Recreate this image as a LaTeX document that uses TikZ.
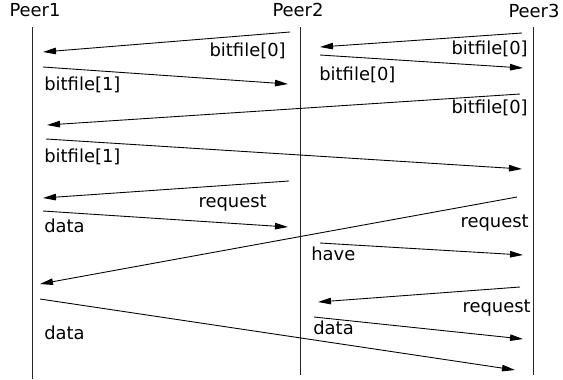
\documentclass[tikz,border=0pt]{standalone}
\usepackage{fontspec}
\setmainfont{DejaVu Sans}
\usetikzlibrary{arrows.meta}

\begin{document}
\begin{tikzpicture}[x=0.02cm, y=-0.02cm,
    every node/.style={font=\fontsize{10.2}{12}\selectfont, inner sep=0pt},
    lifeline/.style={line width=0.5pt, black!85},
    msg/.style={line width=0.5pt, -{Triangle[length=2.6mm, width=1.3mm]}}]
        \useasboundingbox (0,0) rectangle (563,379);
        % Peers
        \node[anchor=base] (peer1) at (35,16) {Peer1};
        \node[anchor=base] (peer2) at (298,16) {Peer2};
        \node[anchor=base] (peer3) at (534,17) {Peer3};
        % Lifelines
        \draw[lifeline] (32,27) -- (32,379);
        \draw[lifeline] (300,27) -- (300,375);
        \draw[lifeline] (533,27) -- (533,375);
        % Message end points
        \coordinate (a1) at (290,32);  \coordinate (b1) at (43,52);
        \coordinate (a2) at (43,67);   \coordinate (b2) at (288,84);
        \coordinate (a3) at (522,33);  \coordinate (b3) at (320,47);
        \coordinate (a4) at (320,55);  \coordinate (b4) at (523,68);
        \coordinate (a5) at (520,94);  \coordinate (b5) at (47,125);
        \coordinate (a6) at (46,139);  \coordinate (b6) at (522,169);
        \coordinate (a7) at (289,181); \coordinate (b7) at (43,198);
        \coordinate (a8) at (43,211);  \coordinate (b8) at (288,227);
        \coordinate (a9) at (517,197); \coordinate (b9) at (40,284);
        \coordinate (a10) at (320,243); \coordinate (b10) at (523,255);
        \coordinate (a11) at (520,287); \coordinate (b11) at (318,302);
        \coordinate (a12) at (314,317); \coordinate (b12) at (523,339);
        \coordinate (a13) at (40,299);  \coordinate (b13) at (515,370);
        % Messages
        \draw[msg] (a1) -- (b1);
        \draw[msg] (a2) -- (b2);
        \draw[msg] (a3) -- (b3);
        \draw[msg] (a4) -- (b4);
        \draw[msg] (a5) -- (b5);
        \draw[msg] (a6) -- (b6);
        \draw[msg] (a7) -- (b7);
        \draw[msg] (a8) -- (b8);
        \draw[msg] (a9) -- (b9);
        \draw[msg] (a10) -- (b10);
        \draw[msg] (a11) -- (b11);
        \draw[msg] (a12) -- (b12);
        \draw[msg] (a13) -- (b13);
        % Labels
        \node[anchor=base east] (t1) at (286,56) {bitfile[0]};
        \node[anchor=base west] (t2) at (44,90) {bitfile[1]};
        \node[anchor=base east] (t3) at (528,54) {bitfile[0]};
        \node[anchor=base west] (t4) at (319,80) {bitfile[0]};
        \node[anchor=base east] (t5) at (528,113) {bitfile[0]};
        \node[anchor=base west] (t6) at (44,162) {bitfile[1]};
        \node[anchor=base east] (t7) at (267,207) {request};
        \node[anchor=base west] (t8) at (44,232) {data};
        \node[anchor=base east] (t9) at (529,227) {request};
        \node[anchor=base west] (t10) at (311,260) {have};
        \node[anchor=base east] (t11) at (531,312) {request};
        \node[anchor=base west] (t12) at (313,334) {data};
        \node[anchor=base west] (t13) at (44,339) {data};
    \end{tikzpicture}
\end{document}
